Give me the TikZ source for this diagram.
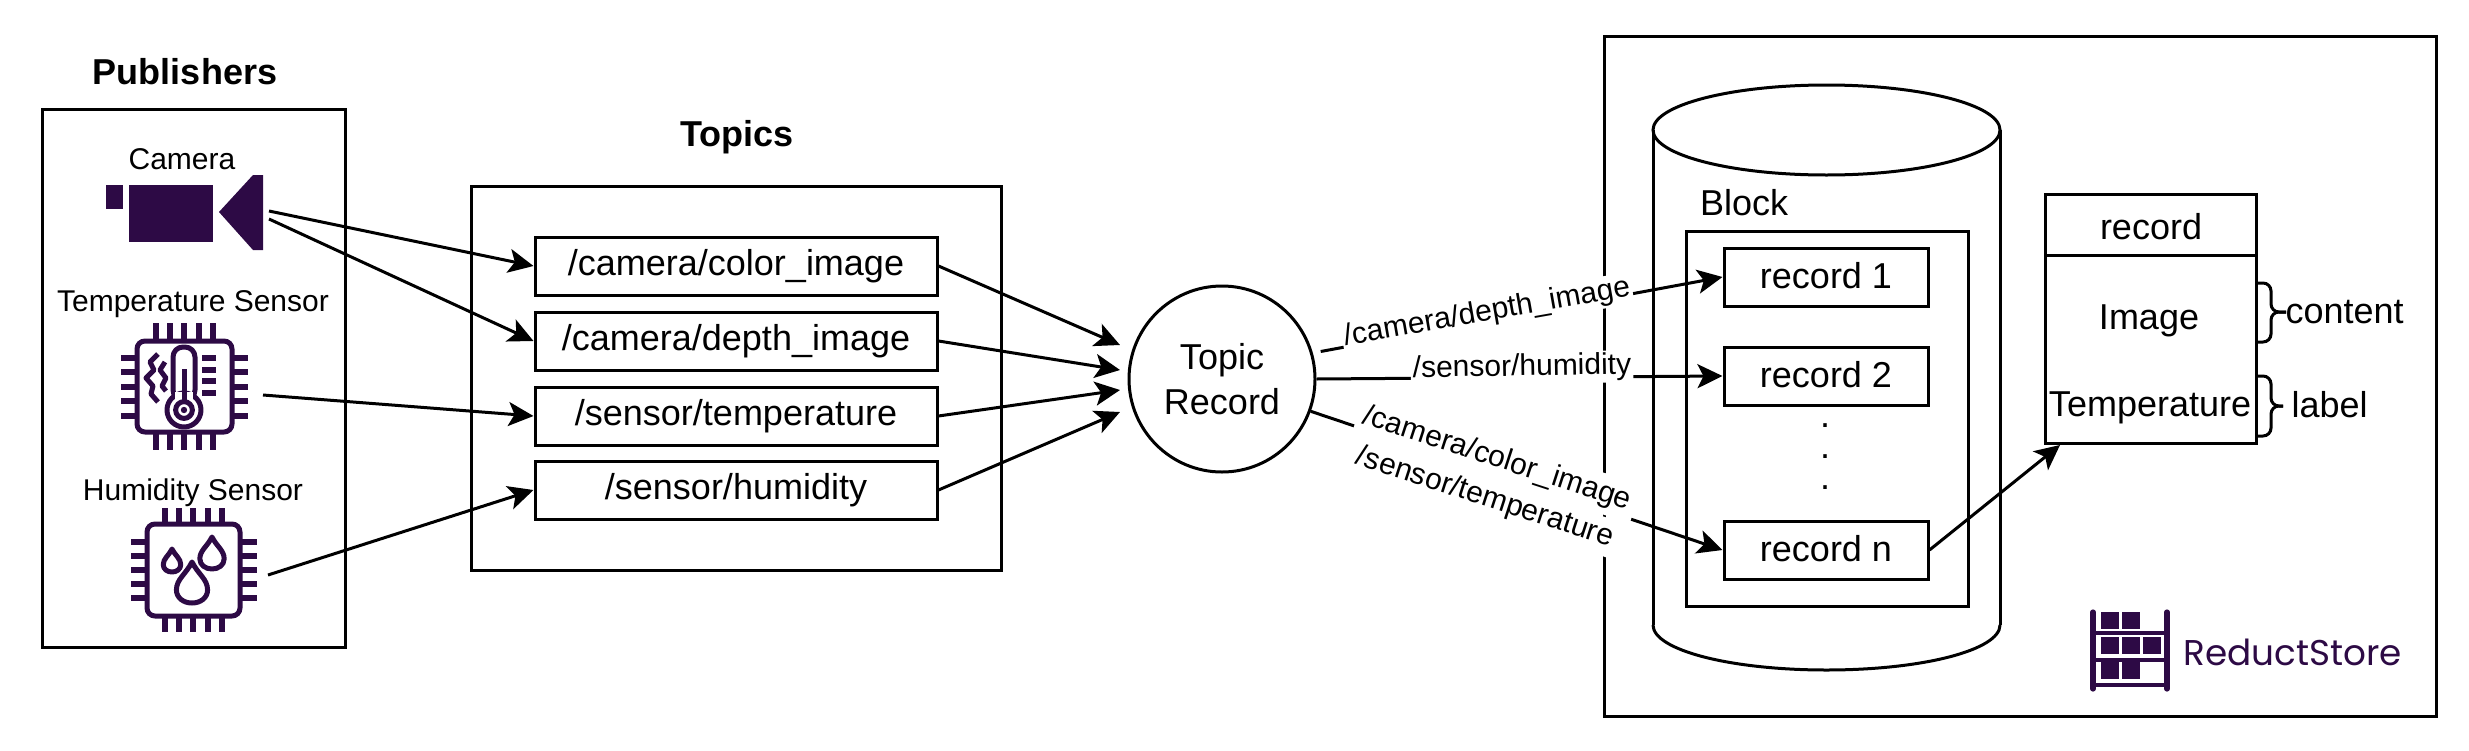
\documentclass[tikz,border=0pt]{standalone}
\usepackage{fontspec}
\setmainfont{Liberation Sans}
\newfontfamily\logofont{Poppins}
\usetikzlibrary{arrows.meta}
\definecolor{iconpurple}{HTML}{2D0A45}
\tikzset{
	drop/.pic={\draw[iconline] (0,0) .. controls (-.15,.3) and (-.38,.42) .. (-.38,.68) .. controls (-.38,.88) and (-.2,1) .. (0,1) .. controls (.2,1) and (.38,.88) .. (.38,.68) .. controls (.38,.42) and (.15,.3) .. (0,0) -- cycle;},
	iconline/.style={color=iconpurple, line width=2.5pt, line join=round},
	pin/.style={color=iconpurple, line width=2.9pt},
	frame/.style={line width=1.5pt},
	recbox/.style={draw, line width=1.5pt, inner sep=0pt, font=\fontsize{18}{21}\selectfont},
	linelabel/.style={fill=white, inner sep=1pt, font=\fontsize{15}{18}\selectfont},
	smalltext/.style={font=\fontsize{15}{18}\selectfont},
	bigtext/.style={font=\fontsize{18}{21}\selectfont},
	title/.style={font=\fontsize{18}{21}\selectfont\bfseries}
}
\begin{document}
\begin{tikzpicture}[x=.5pt, y=-.5pt, line width=1.5pt, -{Stealth[length=12.5pt, width=12pt, inset=3pt]}]
	\useasboundingbox (0,0) rectangle (2469,750);
	\draw[frame,-] (42,109) rectangle (345,647);
	\draw[frame,-] (471,186) rectangle (1001,570);
	\draw[frame,-] (1604,36) rectangle (2436,716);
	\node[title] (pubtitle) at (185,72) {Publishers};
	\node[title] (toptitle) at (737,137) {Topics};
	\node[smalltext] (camlabel) at (182,159) {Camera};
	\node[smalltext] (templabel) at (193,304) {Temperature Sensor};
	\node[smalltext] (humlabel) at (193,493) {Humidity Sensor};
	\fill[iconpurple] (106,185) rectangle (123,209);
	\fill[iconpurple] (129,185) rectangle (213,242);
	\fill[iconpurple] (219,212) -- (253,175) -- (263,175) -- (263,250) -- (253,250) -- cycle;
	\draw[iconline,-,rounded corners=4pt] (137,341) rectangle (232,432);
	\foreach \px in {156,170,184,199,213} {
		\draw[pin,-] (\px,323) -- (\px,341);
		\draw[pin,-] (\px,432) -- (\px,450);
	}
	\foreach \py in {358,372,387,401,416} {
		\draw[pin,-] (121,\py) -- (137,\py);
		\draw[pin,-] (232,\py) -- (248,\py);
	}
	\draw[iconline,-] (184,410) circle [radius=8.5pt];
	\draw[iconline,-,rounded corners=5pt] (173,347) rectangle (195,400);
	\fill[white] (175,392) rectangle (193,408);
	\draw[iconline,-] (184,410) circle [radius=4.2pt];
	\fill[iconpurple] (184,410) circle [radius=1.6pt];
	\draw[iconline,-] (184,369) -- (184,402);
	\foreach \py in {358,370,381,393} {
		\draw[pin,-] (202,\py) -- (216,\py);
	}
	\draw[iconline,-] (158,354) -- (150,362) -- (154,370) -- (146,378) -- (153,386) -- (151,394) -- (158,402);
	\draw[iconline,-] (165,362) -- (160,370) -- (166,378) -- (162,386) -- (166,391);
	\draw[iconline,-,rounded corners=4pt] (147,524) rectangle (240,616);
	\foreach \px in {165,179,193,208,222} {
		\draw[pin,-] (\px,508) -- (\px,524);
		\draw[pin,-] (\px,616) -- (\px,632);
	}
	\foreach \py in {542,556,570,584,598} {
		\draw[pin,-] (131,\py) -- (147,\py);
		\draw[pin,-] (240,\py) -- (257,\py);
	}
	\pic[scale=41] at (192,562) {drop};
	\pic[scale=32] at (212,537) {drop};
	\pic[scale=23] at (172,549) {drop};
	\node[recbox, minimum width=201pt, minimum height=29pt] (tcolor) at (736,266) {/camera/color\_image};
	\node[recbox, minimum width=201pt, minimum height=29pt] (tdepth) at (736,341) {/camera/depth\_image};
	\node[recbox, minimum width=201pt, minimum height=29pt] (ttemp) at (736,416) {/sensor/temperature};
	\node[recbox, minimum width=201pt, minimum height=29pt] (thum) at (736,490) {/sensor/humidity};
	\node[circle, draw, minimum size=93pt, inner sep=0pt, align=center, bigtext] (toprec) at (1222,379) {Topic\\[1.5pt]Record};
	\coordinate (camoutA) at (269,211);
	\coordinate (camoutB) at (269,219);
	\coordinate (tempout) at (263,395);
	\coordinate (humout) at (268,575);
	\coordinate (inA) at (1120,345);
	\coordinate (inB) at (1120,370);
	\coordinate (inC) at (1120,390);
	\coordinate (inD) at (1120,412);
	\coordinate (panelin) at (2060,445);
	\draw (camoutA) -- (tcolor.west);
	\draw (camoutB) -- (tdepth.west);
	\draw (tempout) -- (ttemp.west);
	\draw (humout) -- (thum.west);
	\draw (tcolor.east) -- (inA);
	\draw (tdepth.east) -- (inB);
	\draw (ttemp.east) -- (inC);
	\draw (thum.east) -- (inD);
	\draw[-] (1653,130) -- (1653,625);
	\draw[-] (2000,130) -- (2000,625);
	\draw[-] (1826.5,130) ellipse [x radius=173.5, y radius=45];
	\draw[-] (1653,625) .. controls (1653,650) and (1730,670) .. (1826.5,670) .. controls (1923,670) and (2000,650) .. (2000,625);
	\node[bigtext] (blocklabel) at (1744,203) {Block};
	\draw[frame,-] (1686,231) rectangle (1968,606);
	\node[recbox, text depth=2pt, minimum width=102pt, minimum height=29pt] (recA) at (1826,277) {record 1};
	\node[recbox, text depth=2pt, minimum width=102pt, minimum height=29pt] (recB) at (1826,376) {record 2};
	\node[recbox, text depth=2pt, minimum width=102pt, minimum height=29pt] (recN) at (1826,550) {record n};
	\node[align=center, inner sep=0pt, font=\fontsize{18}{15.5}\selectfont] (recdots) at (1825,457) {.\\.\\.};
	\draw[shorten <=4pt] (toprec.16) -- (recA.west);
	\draw (toprec.0) -- (recB.west);
	\draw (toprec.-20) -- (recN.west);
	\node[linelabel, rotate=10] (lbldepth) at (1487,313) {/camera/depth\_image};
	\node[linelabel, rotate=1] (lblhum) at (1522,368) {/sensor/humidity};
	\node[linelabel, inner sep=2.5pt, rotate=-18] (lbltemp) at (1485,498) {/sensor/temperature};
	\node[linelabel, inner sep=3pt, rotate=-18] (lblcolor) at (1497,459) {/camera/color\_image};
	\draw[frame,-] (2045,194) rectangle (2256,443);
	\draw[frame,-] (2045,255) -- (2256,255);
	\node[bigtext] (panelhead) at (2151,227) {record};
	\node[bigtext] (panelimage) at (2149,321) {Image};
	\node[bigtext, inner sep=0pt] (paneltemp) at (2150,408) {Temperature};
	\draw (recN.east) -- (panelin);
	\foreach \ya/\ym/\yb/\xtip in {283/312/342/2286, 376/406/436/2283} {
		\draw[-,rounded corners=4pt] (2256,\ya) -- (2271,\ya) -- (2271,\ym) -- (\xtip,\ym);
		\draw[-,rounded corners=4pt] (2256,\yb) -- (2271,\yb) -- (2271,\ym) -- (\xtip,\ym);
	}
	\node[bigtext, anchor=west, inner sep=0pt] (contentlabel) at (2284,312) {content};
	\node[bigtext, anchor=west, inner sep=0pt] (labellabel) at (2290,405) {label};
	\draw[iconline,-,line cap=round,line width=2.6pt] (2093,612) -- (2093,689);
	\draw[iconline,-,line cap=round,line width=2.6pt] (2167,612) -- (2167,689);
	\foreach \py in {633,660,685} {
		\draw[iconline,-,line width=2.3pt] (2093,\py) -- (2167,\py);
	}
	\foreach \bx/\by in {2101/612,2122/612,2101/637,2122/637,2143/637,2101/662,2122/662} {
		\fill[iconpurple] (\bx,\by) rectangle +(18,17);
	}
	\node[anchor=west, inner sep=0pt, text=iconpurple, font=\logofont\fontsize{17.9}{21}\selectfont] (logotext) at (2182,652) {ReductStore};
\end{tikzpicture}
\end{document}
